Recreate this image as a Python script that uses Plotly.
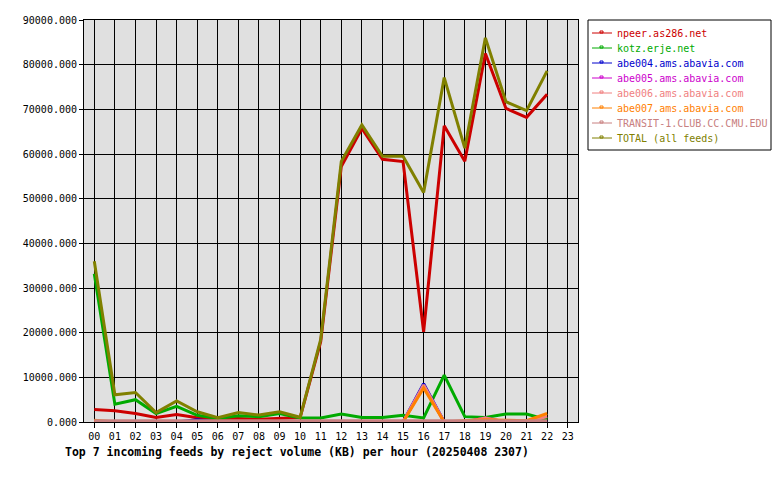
import plotly.graph_objects as go

hours = list(range(23))
tick_labels = [f"{h:02d}" for h in range(24)]

names = ["npeer.as286.net", "kotz.erje.net", "abe004.ams.abavia.com", "abe005.ams.abavia.com",
         "abe006.ams.abavia.com", "abe007.ams.abavia.com", "TRANSIT-1.CLUB.CC.CMU.EDU", "TOTAL (all feeds)"]
colors = ["#CC0000", "#00AA00", "#0000CC", "#CC00CC", "#F08080", "#FF8000", "#C88080", "#808000"]

npeer = [2800, 2500, 1900, 1000, 1700, 950, 650, 800, 600, 800, 1000, 18000, 57200, 65700, 58800, 58300,
         20200, 66300, 58400, 82500, 70200, 68200, 73400]
kotz = [33200, 4000, 5000, 1900, 3500, 1500, 800, 1400, 1200, 1900, 900, 900, 1800, 1000, 1000, 1500,
        900, 10500, 1200, 1000, 1800, 1800, 500]
abe004 = [0, 0, 0, 0, 0, 500, 0, 0, 0, 0, 0, 0, 0, 0, 0, 0, 8600, 0, 0, 0, 0, 0, 0]
abe005 = [0, 0, 0, 0, 0, 0, 0, 0, 0, 0, 0, 0, 0, 0, 0, 0, 8200, 0, 0, 900, 0, 0, 0]
abe006 = [0, 0, 0, 0, 0, 0, 0, 0, 0, 0, 0, 0, 0, 0, 0, 0, 8300, 0, 0, 900, 0, 0, 1200]
abe007 = [400, 0, 0, 0, 0, 0, 0, 0, 0, 0, 0, 0, 0, 0, 0, 0, 7600, 0, 300, 500, 400, 300, 1900]
transit = [300] * 23
total = [36000, 6100, 6600, 2100, 4700, 2300, 950, 2100, 1550, 2300, 1050, 18500, 58300, 66500, 59500,
         59500, 51400, 77100, 61300, 86000, 71700, 69700, 78600]

series = [npeer, kotz, abe004, abe005, abe006, abe007, transit, total]

W, H = 780, 480
L, R, T, B = 84, 578, 20, 422

def px_x(px):
    return (px - L) / (R - L)

def px_y(py):
    return (B - py) / (B - T)

fig = go.Figure()
for name, col, vals in zip(names, colors, series):
    fig.add_trace(go.Scatter(x=hours, y=vals, mode="lines", name=name,
                             line=dict(color=col, width=3), showlegend=False))

shapes = []
annotations = []
# legend box
shapes.append(dict(type="rect", xref="paper", yref="paper", x0=px_x(588), x1=px_x(771),
                   y0=px_y(150), y1=px_y(20), line=dict(color="black", width=1), fillcolor="white", layer="above"))
for i, (name, col) in enumerate(zip(names, colors)):
    py = 33 + 15 * i
    shapes.append(dict(type="line", xref="paper", yref="paper", x0=px_x(592), x1=px_x(612),
                       y0=px_y(py), y1=px_y(py), line=dict(color=col, width=1), layer="above"))
    shapes.append(dict(type="rect", xref="paper", yref="paper", x0=px_x(600), x1=px_x(603),
                       y0=px_y(py), y1=px_y(py - 2), line=dict(color=col, width=1), layer="above"))
    annotations.append(dict(text=name, xref="paper", yref="paper", x=px_x(615), y=px_y(py),
                            xanchor="left", yanchor="middle", showarrow=False,
                            font=dict(family="DejaVu Sans Mono", size=10, color=col)))

annotations.append(dict(text="<b>Top 7 incoming feeds by reject volume (KB) per hour (20250408 2307)</b>",
                        xref="paper", yref="paper", x=px_x(63), y=px_y(452), xanchor="left", yanchor="middle",
                        showarrow=False, font=dict(family="DejaVu Sans Mono", size=11.5, color="black")))

fig.update_layout(
    width=W, height=H,
    margin=dict(l=L, r=W - R, t=T, b=H - B, pad=0),
    paper_bgcolor="white", plot_bgcolor="#E0E0E0",
    shapes=shapes, annotations=annotations,
    font=dict(family="DejaVu Sans Mono", size=10, color="black"),
)
fig.update_xaxes(range=[-0.5, 23.5], tickvals=list(range(24)), ticktext=tick_labels,
                 showgrid=True, gridcolor="black", gridwidth=1, showline=True, linecolor="black",
                 linewidth=1, mirror=True, ticks="outside", ticklen=5, tickcolor="black",
                 zeroline=False, fixedrange=True)
fig.update_yaxes(range=[0, 90000], tickvals=list(range(0, 90001, 10000)), tickformat=".3f",
                 showgrid=True, gridcolor="black", gridwidth=1, showline=True, linecolor="black",
                 linewidth=1, mirror=True, ticks="outside", ticklen=4, tickcolor="black",
                 zeroline=False, fixedrange=True)

fig.write_html("out.html", config={"displayModeBar": False, "staticPlot": True},
               post_script="document.body.style.margin='0';document.body.style.overflow='hidden';")
